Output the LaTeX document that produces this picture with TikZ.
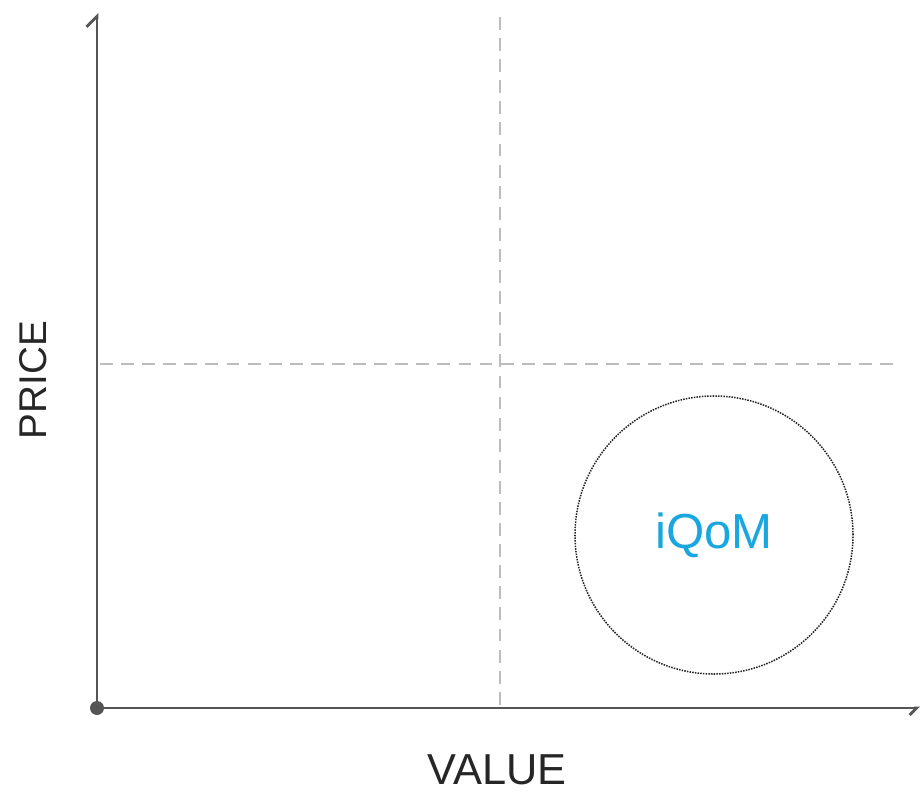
\documentclass[tikz,border=0pt]{standalone}
\usepackage{fontspec}
\setmainfont{Liberation Sans}
\usetikzlibrary{arrows.meta}
\definecolor{axisgray}{HTML}{555555}
\definecolor{guidegray}{HTML}{BDBDBD}
\definecolor{iqomblue}{HTML}{1AA7E0}

\begin{document}
\begin{tikzpicture}[x=0.03cm, y=-0.03cm,
    axis/.style={line width=2.4pt, axisgray},
    guide/.style={line width=1.6pt, guidegray, dash pattern=on 11pt off 7pt},
    bubble/.style={circle, draw=black!85, densely dotted, line width=1.3pt,
        minimum size=8.34cm, inner sep=0pt, text=iqomblue,
        font=\fontsize{42}{50}\selectfont},
    axislabel/.style={text=black!85, inner sep=0pt, font=\fontsize{37}{44}\selectfont}]

    \useasboundingbox (0,0) rectangle (924,792);

    \coordinate (origin) at (97,708);
    \coordinate (ytip) at (97,13);
    \coordinate (xtip) at (920,708);
    \coordinate (vtop) at (500,17);
    \coordinate (vbot) at (500,708);
    \coordinate (hleft) at (100,364);
    \coordinate (hright) at (900,364);

    % quadrant guides
    \draw[guide] (vtop) -- (vbot);
    \draw[guide] (hleft) -- (hright);

    % axes
    \draw[axis, -{Straight Barb[harpoon, length=9pt, width=18pt, line width=2.4pt]}] (origin) -- (ytip);
    \draw[axis, -{Straight Barb[harpoon, swap, length=6pt, width=12pt, line width=2.4pt]}] (origin) -- (xtip);
    \fill[axisgray] (origin) circle (7);

    \node[bubble] (iqom) at (714,535) {iQoM};

    \node[axislabel, anchor=base] (value) at (497,784) {VALUE};
    \node[axislabel, rotate=90, font=\fontsize{33}{40}\selectfont] (price) at (33,380) {PRICE};

\end{tikzpicture}
\end{document}
